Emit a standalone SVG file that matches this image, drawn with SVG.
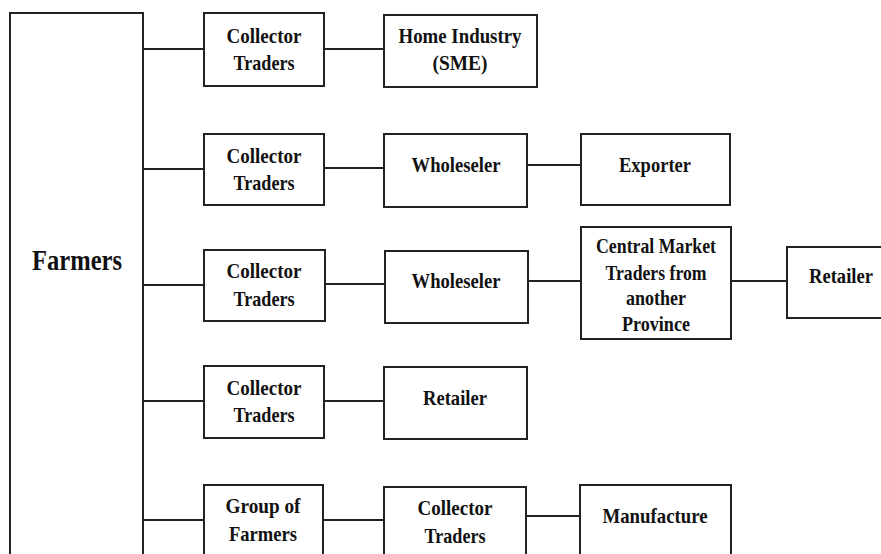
<svg xmlns="http://www.w3.org/2000/svg" width="881" height="554" viewBox="0 0 881 554">
<style>
rect{fill:#fff;stroke:#222;stroke-width:2}
line{stroke:#222;stroke-width:2}
text{font-family:"Liberation Serif","Times New Roman",serif;font-weight:bold;font-size:22px;fill:#111;text-anchor:middle}
.big{font-size:29px}
</style>
<rect x="0" y="0" width="881" height="554" style="fill:#fff;stroke:none"/>
<g id="connectors">
<line x1="143" y1="49" x2="204" y2="49"/>
<line x1="324" y1="49" x2="384" y2="49"/>
<line x1="143" y1="169" x2="204" y2="169"/>
<line x1="324" y1="168" x2="384" y2="168"/>
<line x1="527" y1="165" x2="581" y2="165"/>
<line x1="143" y1="285" x2="204" y2="285"/>
<line x1="325" y1="284" x2="385" y2="284"/>
<line x1="528" y1="281" x2="581" y2="281"/>
<line x1="731" y1="281" x2="787" y2="281"/>
<line x1="143" y1="401" x2="204" y2="401"/>
<line x1="324" y1="401" x2="384" y2="401"/>
<line x1="143" y1="520" x2="204" y2="520"/>
<line x1="323" y1="520" x2="384" y2="520"/>
<line x1="526" y1="516" x2="580" y2="516"/>
</g>
<g id="farmers">
<rect x="10" y="13" width="133" height="560"/>
<text class="big" x="77" y="270" textLength="90" lengthAdjust="spacingAndGlyphs">Farmers</text>
</g>
<g id="collector1">
<rect x="204" y="13" width="120" height="73"/>
<text x="264" y="43" textLength="75" lengthAdjust="spacingAndGlyphs">Collector</text>
<text x="264" y="70" textLength="61" lengthAdjust="spacingAndGlyphs">Traders</text>
</g>
<g id="homeindustry">
<rect x="384" y="15" width="153" height="72"/>
<text x="460" y="43" textLength="123" lengthAdjust="spacingAndGlyphs">Home Industry</text>
<text x="460" y="70" textLength="55" lengthAdjust="spacingAndGlyphs">(SME)</text>
</g>
<g id="collector2">
<rect x="204" y="134" width="120" height="71"/>
<text x="264" y="163" textLength="75" lengthAdjust="spacingAndGlyphs">Collector</text>
<text x="264" y="190" textLength="61" lengthAdjust="spacingAndGlyphs">Traders</text>
</g>
<g id="wholeseler1">
<rect x="384" y="134" width="143" height="73"/>
<text x="456" y="172" textLength="89" lengthAdjust="spacingAndGlyphs">Wholeseler</text>
</g>
<g id="exporter">
<rect x="581" y="134" width="149" height="71"/>
<text x="655" y="172" textLength="72" lengthAdjust="spacingAndGlyphs">Exporter</text>
</g>
<g id="collector3">
<rect x="204" y="250" width="121" height="71"/>
<text x="264" y="278" textLength="75" lengthAdjust="spacingAndGlyphs">Collector</text>
<text x="264" y="306" textLength="61" lengthAdjust="spacingAndGlyphs">Traders</text>
</g>
<g id="wholeseler2">
<rect x="385" y="251" width="143" height="72"/>
<text x="456" y="288" textLength="89" lengthAdjust="spacingAndGlyphs">Wholeseler</text>
</g>
<g id="centralmarket">
<rect x="581" y="227" width="150" height="112"/>
<text x="656" y="253" textLength="120" lengthAdjust="spacingAndGlyphs">Central Market</text>
<text x="656" y="280" textLength="101" lengthAdjust="spacingAndGlyphs">Traders from</text>
<text x="656" y="305" textLength="60" lengthAdjust="spacingAndGlyphs">another</text>
<text x="656" y="331" textLength="68" lengthAdjust="spacingAndGlyphs">Province</text>
</g>
<g id="retailer1">
<rect x="787" y="247" width="110" height="71"/>
<text x="841" y="283" textLength="64" lengthAdjust="spacingAndGlyphs">Retailer</text>
</g>
<g id="collector4">
<rect x="204" y="366" width="120" height="72"/>
<text x="264" y="395" textLength="75" lengthAdjust="spacingAndGlyphs">Collector</text>
<text x="264" y="422" textLength="61" lengthAdjust="spacingAndGlyphs">Traders</text>
</g>
<g id="retailer2">
<rect x="384" y="367" width="143" height="72"/>
<text x="455" y="405" textLength="64" lengthAdjust="spacingAndGlyphs">Retailer</text>
</g>
<g id="groupfarmers">
<rect x="204" y="485" width="119" height="90"/>
<text x="263" y="513" textLength="75" lengthAdjust="spacingAndGlyphs">Group of</text>
<text x="263" y="541" textLength="68" lengthAdjust="spacingAndGlyphs">Farmers</text>
</g>
<g id="collector5">
<rect x="384" y="487" width="142" height="90"/>
<text x="455" y="515" textLength="75" lengthAdjust="spacingAndGlyphs">Collector</text>
<text x="455" y="543" textLength="61" lengthAdjust="spacingAndGlyphs">Traders</text>
</g>
<g id="manufacture">
<rect x="580" y="485" width="151" height="90"/>
<text x="655" y="523" textLength="105" lengthAdjust="spacingAndGlyphs">Manufacture</text>
</g>
</svg>
